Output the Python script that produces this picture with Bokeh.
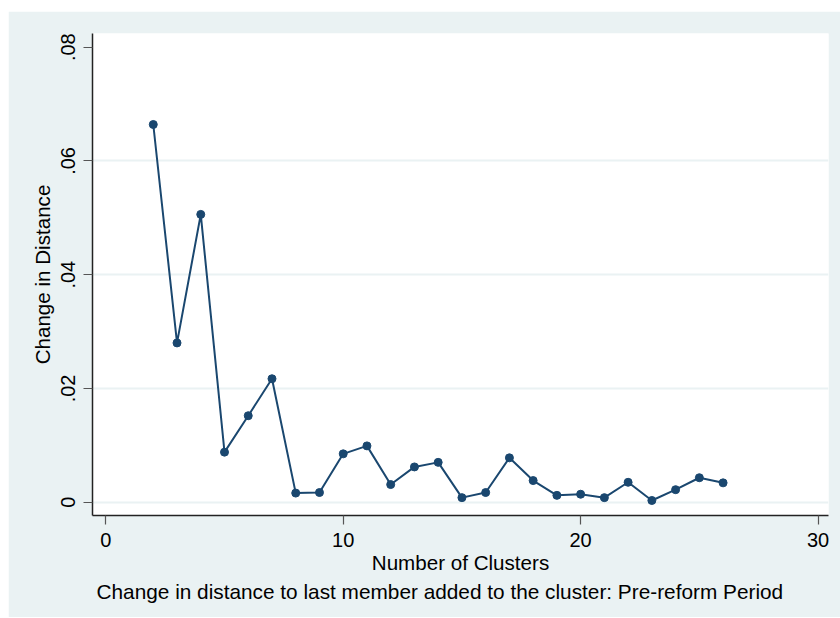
from bokeh.plotting import figure
from bokeh.models import FixedTicker, Title, Spacer
from bokeh.layouts import column, row
from bokeh.embed import file_html
from bokeh.resources import INLINE

# Data
clusters = [2, 3, 4, 5, 6, 7, 8, 9, 10, 11, 12, 13, 14, 15, 16, 17, 18, 19, 20, 21, 22, 23, 24, 25, 26]
change = [0.0664, 0.0280, 0.0506, 0.0088, 0.0152, 0.0217, 0.0016, 0.0017, 0.0085, 0.0099,
          0.0031, 0.0062, 0.0070, 0.0008, 0.0017, 0.0078, 0.0038, 0.0012, 0.0014, 0.0008,
          0.0035, 0.0003, 0.0022, 0.0043, 0.0034]
x_ticks = [0, 10, 20, 30]
y_ticks = [0, 0.02, 0.04, 0.06, 0.08]
y_tick_labels = ["0", ".02", ".04", ".06", ".08"]

BG = "#EAF2F3"
NAVY = "#1A476F"
FONT = "Liberation Sans"

p = figure(width=832, height=606, x_range=(-0.56, 30.44), y_range=(-0.00234, 0.0824),
           output_backend="svg", toolbar_location=None,
           min_border_left=84, min_border_right=12, min_border_top=22, min_border_bottom=102,
           background_fill_color="white", border_fill_color=BG)
p.outline_line_color = None

p.line(clusters, change, line_color=NAVY, line_width=2)
p.scatter(clusters, change, size=8, fill_color=NAVY, line_color=NAVY)

p.xgrid.visible = False
p.ygrid.ticker = FixedTicker(ticks=[0, 0.02, 0.04, 0.06])
p.ygrid.grid_line_color = BG
p.ygrid.grid_line_width = 2

p.xaxis.ticker = FixedTicker(ticks=x_ticks)
p.yaxis.ticker = FixedTicker(ticks=y_ticks)
p.yaxis.major_label_overrides = {t: l for t, l in zip(y_ticks, y_tick_labels)}
p.yaxis.major_label_orientation = "vertical"

for ax in (p.xaxis, p.yaxis):
    ax.axis_line_color = "#222222"
    ax.axis_line_width = 1.5
    ax.major_tick_line_color = "#555555"
    ax.major_tick_line_width = 1.2
    ax.major_tick_out = 9
    ax.major_tick_in = 0
    ax.minor_tick_line_color = None
    ax.major_label_text_font = FONT
    ax.major_label_text_font_size = "20px"
    ax.major_label_text_color = "black"
    ax.axis_label_text_font = FONT
    ax.axis_label_text_font_size = "20.6px"
    ax.axis_label_text_font_style = "normal"
    ax.axis_label_text_color = "black"
    ax.major_label_standoff = 8

p.xaxis.axis_label = "Number of Clusters"
p.yaxis.axis_label = "Change in Distance"
p.xaxis.axis_label_standoff = 1
p.yaxis.axis_label_standoff = 5

sub = Title(text="Change in distance to last member added to the cluster: Pre-reform Period",
            align="left", offset=4, standoff=2,
            text_font=FONT, text_font_size="20.8px", text_font_style="normal",
            text_color="black")
p.add_layout(sub, "below")

layout = column(Spacer(height=11, width=840),
                row(Spacer(width=8, height=606), p, spacing=0),
                spacing=0)
open("out.html", "w").write(file_html(layout, INLINE))
